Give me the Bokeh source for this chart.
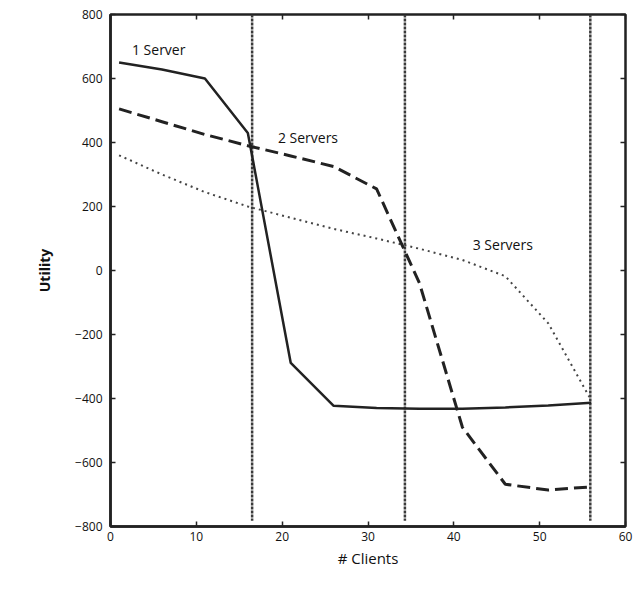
from bokeh.plotting import figure
from bokeh.models import LinearAxis, Range1d, FixedTicker, Label
from bokeh.embed import file_html
from bokeh.resources import INLINE

clients = [1, 6, 11, 16, 21, 26, 31, 36, 41, 46, 51, 56]
one_server = [650, 628, 600, 430, -289, -423, -430, -432, -432, -428, -422, -413]
two_servers = [505, 465, 425, 390, 358, 325, 255, -40, -490, -668, -686, -676]
three_servers = [360, 300, 245, 200, 165, 130, 100, 68, 33, -18, -165, -405]
switch_points = [16.5, 34.3, 55.9]
labels = ["1 Server", "2 Servers", "3 Servers"]
label_x = [2.5, 19.5, 42.2]
label_y = [690, 415, 80]
x_ticks = [0, 10, 20, 30, 40, 50, 60]
y_ticks = [-800, -600, -400, -200, 0, 200, 400, 600, 800]

FONT = "Open Sans"

p = figure(width=634, height=591, output_backend="svg", toolbar_location=None,
           x_range=Range1d(0, 60), y_range=Range1d(-800, 800),
           min_border_left=110, min_border_right=9, min_border_top=14, min_border_bottom=65)
p.background_fill_color = "white"
p.border_fill_color = "white"
p.grid.visible = False
p.outline_line_color = "#222222"
p.outline_line_width = 2.5

for ax in (p.xaxis[0], p.yaxis[0]):
    ax.axis_line_width = 2.5
    ax.axis_line_color = "#222222"
    ax.major_tick_in = 5
    ax.major_tick_out = 0
    ax.minor_tick_line_color = None
    ax.major_tick_line_color = "#222222"
    ax.major_tick_line_width = 1.5
    ax.major_label_text_font = FONT
    ax.major_label_text_font_size = "12px"
    ax.major_label_text_color = "#111111"
    ax.axis_label_text_font = FONT
    ax.axis_label_text_font_style = "normal"
    ax.axis_label_text_color = "#111111"

p.xaxis[0].ticker = FixedTicker(ticks=x_ticks)
p.yaxis[0].ticker = FixedTicker(ticks=y_ticks)
p.yaxis[0].major_label_overrides = {t: (str(t).replace("-", "\u2212")) for t in y_ticks}
p.xaxis[0].axis_label = "# Clients"
p.yaxis[0].axis_label = "Utility"
p.xaxis[0].axis_label_text_font_size = "15px"
p.yaxis[0].axis_label_text_font_size = "14px"
p.yaxis[0].axis_label_text_font_style = "bold"
p.xaxis[0].major_label_standoff = 5
p.yaxis[0].major_label_standoff = 8
p.xaxis[0].axis_label_standoff = 4
p.yaxis[0].axis_label_standoff = 18

top = LinearAxis(ticker=FixedTicker(ticks=x_ticks),
                 major_label_overrides={t: "" for t in x_ticks},
                 major_tick_in=5, major_tick_out=0, minor_tick_line_color=None,
                 axis_line_color=None, major_label_standoff=0,
                 major_tick_line_color="#222222", major_tick_line_width=1.5)
right = LinearAxis(ticker=FixedTicker(ticks=y_ticks),
                   major_label_overrides={t: "" for t in y_ticks},
                   major_tick_in=5, major_tick_out=0, minor_tick_line_color=None,
                   axis_line_color=None, major_label_standoff=0,
                   major_tick_line_color="#222222", major_tick_line_width=1.5)
p.add_layout(top, "above")
p.add_layout(right, "right")

# vertical switch lines
for xs in switch_points:
    p.line([xs, xs], [800, -782], line_color="#3a3a3a", line_width=2.5, line_dash="3 1")

p.line(clients, three_servers, line_color="#444444", line_width=2, line_dash="2 4")
p.line(clients, two_servers, line_color="#222222", line_width=3, line_dash="13 6")
p.line(clients, one_server, line_color="#222222", line_width=2.5)

for t, lx, ly in zip(labels, label_x, label_y):
    p.add_layout(Label(x=lx, y=ly, text=t, text_font=FONT, text_font_size="14px",
                       text_color="#111111", text_baseline="middle"))

open("out.html", "w").write(file_html(p, INLINE))
